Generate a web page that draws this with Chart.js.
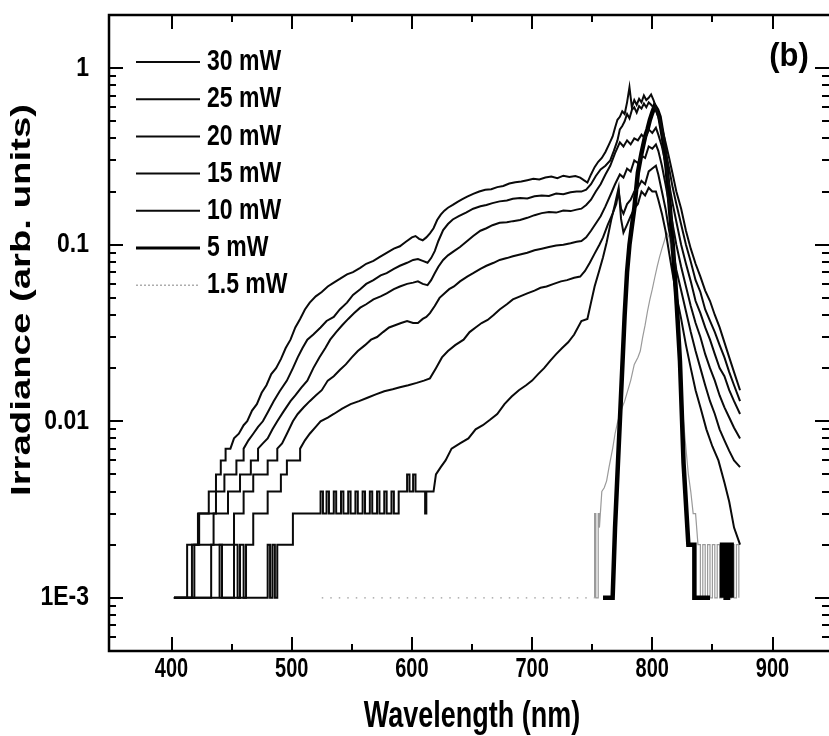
<!DOCTYPE html>
<html>
<head>
<meta charset="utf-8">
<script src="https://cdn.jsdelivr.net/npm/chart.js@4.4.1/dist/chart.umd.min.js"></script>
<style>
    html, body { margin: 0; padding: 0; background: #fff; }
    #wrap { width: 829px; height: 736px; position: relative; }
</style>
</head>
<body>
<div id="wrap"><canvas id="spectraChart"></canvas></div>
<script>
// tick values and labels
const wavelengthTicks = [400, 500, 600, 700, 800, 900];
const wavelengthMinorTicks = [450, 550, 650, 750, 850];
const irradianceTicks = [0.001, 0.01, 0.1, 1];
const irradianceTickLabels = ['1E-3', '0.01', '0.1', '1'];

// [wavelength nm, irradiance]
const series30 = [
    [402, .001], [413, .001], [413, .002], [422, .002], [422, .003], [431, .003], [431, .004], [437, .004], [437, .005],
    [441, .005], [441, .006], [445, .006], [445, .007], [449, .007], [452, .008], [456, .0085], [460, .0095], [463, .01],
    [467, .0115], [471, .0125], [475, .0145], [479, .016], [483, .0185], [487, .02], [491, .0225], [495, .026], [499, .029],
    [503, .034], [507, .038], [511, .043], [515, .047], [520, .051], [525, .054], [530, .058], [535, .061], [540, .064],
    [546, .068], [551, .07], [557, .074], [562, .078], [568, .081], [573, .085], [579, .09], [585, .095], [590, .098],
    [595, .104], [600, .11], [603, .112], [606, .108], [609, .106], [612, .11], [615, .116], [618, .124], [621, .138],
    [624, .148], [627, .156], [630, .162], [634, .168], [638, .175], [642, .181], [646, .187], [651, .194], [656, .2],
    [661, .205], [666, .206], [671, .212], [676, .215], [681, .222], [686, .226], [691, .228], [696, .232], [701, .236],
    [706, .234], [711, .24], [716, .243], [721, .238], [726, .246], [731, .242], [736, .245], [740, .24], [743, .232],
    [746, .225], [749, .25], [752, .275], [755, .295], [758, .31], [761, .335], [764, .37], [767, .41], [769, .46],
    [771, .51], [773, .53], [775, .57], [777, .55], [779, .64], [781, .78], [783, .6], [785, .66], [787, .62], [789, .67],
    [791, .64], [793, .7], [795, .66], [797, .68], [799, .71], [801, .66], [803, .6], [805, .55], [808, .46], [811, .38],
    [814, .31], [817, .25], [820, .2], [824, .16], [828, .12], [832, .095], [836, .078], [840, .066], [844, .055],
    [848, .048], [852, .04], [856, .034], [860, .028], [864, .023], [868, .019], [873, .015]
];

const series25 = [
    [402, .001], [417, .001], [417, .002], [423, .002], [423, .003], [437, .003], [437, .004], [444, .004], [444, .005],
    [454, .005], [454, .006], [460, .006], [460, .007], [464, .0078], [468, .0085], [472, .0093], [476, .01], [480, .0112],
    [485, .013], [490, .0148], [496, .017], [501, .02], [505, .023], [509, .026], [513, .029], [518, .031], [524, .034],
    [529, .037], [535, .039], [540, .043], [546, .047], [551, .052], [557, .056], [562, .06], [568, .063], [574, .067],
    [579, .069], [585, .073], [590, .076], [596, .079], [601, .082], [605, .083], [609, .081], [613, .079], [616, .084],
    [619, .092], [622, .105], [626, .121], [630, .131], [634, .139], [639, .145], [645, .152], [651, .16], [657, .165],
    [662, .168], [667, .172], [673, .176], [679, .178], [684, .182], [690, .184], [696, .183], [702, .188], [708, .19],
    [714, .189], [720, .195], [726, .193], [732, .198], [737, .2], [741, .2], [745, .205], [749, .22], [753, .245],
    [757, .267], [761, .28], [765, .3], [768, .34], [771, .39], [773, .45], [775, .47], [777, .5], [779, .55], [781, .52],
    [783, .58], [785, .6], [787, .56], [789, .61], [791, .59], [793, .63], [795, .6], [797, .64], [799, .62], [801, .6],
    [803, .58], [805, .53], [808, .44], [811, .34], [814, .27], [817, .21], [820, .17], [824, .13], [828, .1], [832, .08],
    [836, .063], [840, .054], [844, .043], [848, .037], [852, .032], [856, .027], [860, .023], [864, .019], [868, .016],
    [873, .013]
];

const series20 = [
    [402, .001], [419, .001], [419, .002], [435, .002], [435, .003], [447, .003], [447, .004], [457, .004], [457, .005],
    [466, .005], [466, .006], [472, .006], [472, .007], [476, .0075], [480, .008], [484, .009], [488, .01], [493, .0113],
    [499, .013], [503, .014], [508, .0155], [513, .017], [518, .02], [523, .023], [528, .026], [532, .029], [537, .032],
    [542, .035], [547, .038], [552, .041], [557, .044], [562, .046], [568, .049], [574, .051], [579, .053], [585, .056],
    [590, .058], [596, .06], [601, .061], [605, .062], [609, .06], [613, .059], [616, .063], [619, .069], [622, .075],
    [626, .082], [630, .087], [635, .092], [640, .097], [646, .105], [651, .112], [657, .12], [662, .124], [667, .129],
    [673, .133], [679, .134], [684, .136], [690, .138], [696, .142], [702, .147], [708, .151], [714, .153], [720, .152],
    [726, .156], [732, .155], [737, .158], [741, .16], [745, .168], [749, .18], [753, .2], [757, .22], [761, .25],
    [765, .28], [769, .33], [773, .38], [776, .36], [779, .39], [782, .37], [785, .4], [788, .39], [791, .42], [794, .4],
    [797, .45], [800, .43], [803, .46], [805, .42], [808, .36], [811, .29], [814, .22], [817, .17], [820, .135], [824, .1],
    [828, .078], [832, .062], [836, .048], [840, .041], [844, .034], [848, .029], [852, .024], [856, .02], [860, .018],
    [864, .015], [868, .013], [873, .011]
];

const series15 = [
    [402, .001], [433, .001], [433, .002], [452, .002], [452, .003], [460, .003], [460, .004], [468, .004], [468, .005],
    [480, .005], [480, .006], [488, .006], [488, .007], [492, .0075], [496, .0085], [501, .01], [505, .011], [510, .012],
    [515, .013], [520, .014], [525, .015], [530, .017], [535, .018], [540, .0195], [545, .021], [550, .023], [555, .025],
    [561, .027], [566, .029], [571, .03], [576, .032], [581, .034], [586, .035], [591, .036], [596, .037], [601, .036],
    [605, .036], [609, .038], [612, .039], [615, .041], [619, .045], [623, .05], [627, .053], [631, .056], [635, .058],
    [640, .062], [646, .066], [651, .069], [657, .073], [662, .076], [668, .079], [673, .082], [679, .084], [684, .086],
    [690, .088], [696, .09], [702, .093], [708, .095], [714, .097], [720, .099], [726, .1], [732, .102], [737, .104],
    [741, .105], [745, .11], [749, .12], [753, .132], [757, .145], [761, .165], [765, .19], [769, .22], [773, .25],
    [776, .24], [779, .27], [782, .26], [785, .3], [788, .29], [791, .32], [794, .31], [797, .36], [800, .35], [803, .37],
    [805, .34], [808, .28], [811, .22], [814, .17], [817, .13], [820, .1], [824, .075], [828, .058], [832, .045],
    [836, .036], [840, .03], [844, .024], [848, .02], [852, .017], [856, .014], [860, .012], [864, .0105], [868, .0092],
    [873, .008]
];

const series10 = [
    [402, .001], [440, .001], [440, .002], [442, .002], [442, .001], [452, .001], [452, .002], [455, .002], [455, .001],
    [457, .001], [457, .002], [460, .002], [460, .001], [462, .001], [462, .002], [468, .002], [468, .003], [480, .003],
    [480, .004], [491, .004], [491, .005], [496, .005], [496, .006], [507, .006], [507, .007], [511, .0078], [515, .0085],
    [520, .0093], [524, .01], [530, .0105], [535, .011], [542, .0118], [549, .0125], [556, .013], [563, .0136],
    [570, .0142], [577, .0148], [584, .0152], [590, .0156], [597, .016], [604, .0165], [610, .017], [615, .0175],
    [620, .02], [625, .023], [630, .025], [636, .027], [643, .029], [648, .032], [653, .034], [658, .036], [663, .0375],
    [668, .04], [673, .043], [679, .046], [684, .049], [690, .051], [696, .053], [702, .055], [707, .057], [712, .058],
    [718, .06], [724, .062], [729, .063], [735, .065], [740, .066], [744, .071], [748, .079], [752, .089], [756, .1],
    [759, .11], [763, .13], [767, .15], [770, .17], [772, .2], [774, .16], [776, .15], [779, .17], [782, .18], [785, .2],
    [788, .21], [791, .23], [794, .22], [797, .26], [800, .27], [803, .28], [805, .25], [808, .2], [811, .16], [814, .12],
    [817, .095], [820, .072], [824, .055], [828, .042], [832, .032], [836, .025], [840, .02], [844, .016], [848, .013],
    [852, .011], [856, .009], [860, .0078], [864, .0068], [868, .006], [873, .0055]
];

const seriesLowest = [
    [440, .001], [480, .001], [480, .002], [482, .002], [482, .001], [484, .001], [484, .002], [486, .002], [486, .001],
    [488, .001], [488, .002], [501, .002], [501, .003], [524, .003], [524, .004], [526, .004], [526, .003], [529, .003],
    [529, .004], [531, .004], [531, .003], [535, .003], [535, .004], [537, .004], [537, .003], [541, .003], [541, .004],
    [543, .004], [543, .003], [547, .003], [547, .004], [549, .004], [549, .003], [553, .003], [553, .004], [555, .004],
    [555, .003], [559, .003], [559, .004], [561, .004], [561, .003], [565, .003], [565, .004], [567, .004], [567, .003],
    [571, .003], [571, .004], [573, .004], [573, .003], [577, .003], [577, .004], [579, .004], [579, .003], [583, .003],
    [583, .004], [585, .004], [585, .003], [589, .003], [589, .004], [596, .004], [596, .005], [598, .005], [598, .004],
    [601, .004], [601, .005], [603, .005], [603, .004], [611, .004], [611, .003], [612, .003], [612, .004], [618, .004],
    [620, .005], [624, .0055], [628, .006], [633, .007], [640, .0075], [647, .008], [653, .009], [659, .0095],
    [665, .0102], [671, .011], [677, .0125], [683, .0138], [689, .015], [695, .016], [700, .017], [705, .0185],
    [710, .02], [715, .022], [720, .024], [725, .026], [730, .028], [735, .031], [741, .037], [746, .038], [749, .047],
    [752, .058], [756, .072], [759, .085], [762, .103], [766, .14], [769, .17], [772, .21], [774, .14], [776, .117],
    [779, .13], [782, .145], [785, .16], [788, .17], [791, .2], [794, .19], [797, .21], [800, .2], [803, .2], [805, .18],
    [808, .15], [811, .12], [814, .09], [817, .068], [820, .052], [824, .038], [828, .027], [832, .02], [836, .015],
    [840, .012], [845, .009], [850, .0072], [855, .006], [860, .0045], [864, .0035], [868, .0025], [873, .002]
];

const series5 = [
    [759, .001], [767, .001], [769, .0025], [771, .005], [773, .01], [775, .02], [777, .04], [779, .07], [781, .1],
    [783, .127], [785, .16], [788, .256], [791, .33], [794, .41], [796, .45], [798, .51], [800, .56], [802, .61],
    [804, .58], [806, .53], [809, .4], [812, .27], [815, .15], [817, .1], [820, .05], [823, .022], [826, .0058],
    [830, .002], [835, .002], [835, .001], [848, .001], [853, null], [858, .001], [858, .002], [861, .002], [861, .001],
    [863, .001], [863, .002], [866, .002], [866, .001]
];

const series1p5 = [
    [525, .001], [752, .001], [752, .003], [753, .003], [753, .001], [755, .001], [755, .003], [756, .003], [756, .0025],
    [758, .004], [760, .0042], [762, .0046], [764, .0055], [767, .007], [769, .0085], [771, .0098], [773, .011],
    [775, .012], [777, .013], [779, .0145], [782, .017], [785, .021], [788, .023], [790, .025], [792, .03], [794, .035],
    [796, .042], [798, .049], [800, .056], [802, .065], [804, .075], [806, .085], [808, .095], [810, .105], [812, .117],
    [814, .11], [816, .09], [818, .06], [820, .04], [822, .025], [824, .016], [826, .01], [828, .007], [830, .005],
    [832, .004], [834, .003], [836, .003], [838, .002], [840, .002], [840, .001], [842, .001], [842, .002], [844, .002],
    [844, .001], [846, .001], [846, .002], [848, .002], [848, .001], [850, .001], [850, .002], [852, .002], [852, .001],
    [854, .001], [854, .002], [856, .002], [856, .001], [858, .001], [858, .002], [860, .002], [860, .001], [862, .001],
    [862, .002], [864, .002], [864, .001], [866, .001], [866, .002], [868, .002], [868, .001], [870, .001], [870, .002],
    [872, .002], [872, .001]
];

const seriesLabels = ['30 mW', '25 mW', '20 mW', '15 mW', '10 mW', '5 mW', '1.5 mW', ''];
const seriesData = [series30, series25, series20, series15, series10, series5, series1p5, seriesLowest];

const FONT = '"Liberation Sans", Arial, Helvetica, sans-serif';

function toPoints(rows) {
    return rows.map((row) => ({ x: row[0], y: row[1] }));
}

function stretchedText(ctx, text, x, y, size, align, sy) {
    ctx.save();
    ctx.translate(x, y);
    ctx.scale(1, sy);
    ctx.font = 'bold ' + size + 'px ' + FONT;
    ctx.textAlign = align;
    ctx.textBaseline = 'middle';
    ctx.fillText(text, 0, 0);
    ctx.restore();
}

const frameAndLabels = {
    id: 'frameAndLabels',
    afterDatasetsDraw(chart) {
        const { ctx, chartArea: area, scales } = chart;
        const xs = scales.x;
        const ys = scales.y;

        ctx.save();
        ctx.strokeStyle = '#000';
        ctx.fillStyle = '#000';
        ctx.lineCap = 'butt';

        // frame
        ctx.lineWidth = 2.5;
        ctx.beginPath();
        ctx.moveTo(area.right + 3, area.top);
        ctx.lineTo(area.left, area.top);
        ctx.lineTo(area.left, area.bottom);
        ctx.lineTo(area.right + 3, area.bottom);
        ctx.stroke();

        // inward ticks
        ctx.lineWidth = 2;
        const tick = (x1, y1, x2, y2) => {
            ctx.beginPath();
            ctx.moveTo(x1, y1);
            ctx.lineTo(x2, y2);
            ctx.stroke();
        };

        wavelengthTicks.forEach((v) => {
            const px = Math.round(xs.getPixelForValue(v));
            tick(px, area.bottom, px, area.bottom - 14);
            tick(px, area.top, px, area.top + 14);
        });
        wavelengthMinorTicks.forEach((v) => {
            const px = Math.round(xs.getPixelForValue(v));
            tick(px, area.bottom, px, area.bottom - 7);
            tick(px, area.top, px, area.top + 7);
        });

        for (let d = -4; d <= 0; d++) {
            for (let k = 1; k <= 9; k++) {
                const v = k * Math.pow(10, d);
                if (v < ys.min || v > ys.max) continue;
                const py = Math.round(ys.getPixelForValue(v));
                const len = k === 1 ? 14 : 7;
                tick(area.left, py, area.left + len, py);
                tick(area.right, py, area.right - len, py);
            }
        }

        // tick labels
        wavelengthTicks.forEach((v) => {
            stretchedText(ctx, String(v), xs.getPixelForValue(v), area.bottom + 19, 20, 'center', 1.35);
        });
        irradianceTicks.forEach((v, i) => {
            stretchedText(ctx, irradianceTickLabels[i], 89, ys.getPixelForValue(v), 23, 'right', 1.18);
        });

        // axis titles
        stretchedText(ctx, 'Wavelength (nm)', 472, 717, 27, 'center', 1.4);
        ctx.save();
        ctx.translate(23, 300);
        ctx.rotate(-Math.PI / 2);
        ctx.scale(1.42, 1);
        ctx.font = 'bold 27px ' + FONT;
        ctx.textAlign = 'center';
        ctx.textBaseline = 'middle';
        ctx.fillText('Irradiance (arb. units)', 0, 0);
        ctx.restore();

        // panel label
        stretchedText(ctx, '(b)', 789, 57, 31, 'center', 1.05);

        // legend
        let row = 0;
        chart.data.datasets.forEach((ds) => {
            if (!ds.label) return;
            const ly = 62 + row * 37.2;
            ctx.save();
            ctx.strokeStyle = ds.borderColor;
            ctx.lineWidth = Math.min(ds.borderWidth, 3);
            if (ds.legendDash) ctx.setLineDash(ds.legendDash);
            tick(136, ly, 200, ly);
            ctx.restore();
            stretchedText(ctx, ds.label, 207, ly, 23, 'left', 1.3);
            row++;
        });

        ctx.restore();
    }
};

const lineStyles = [
    { color: '#0a0a0a', width: 2 },
    { color: '#0a0a0a', width: 2 },
    { color: '#0a0a0a', width: 2 },
    { color: '#0a0a0a', width: 2 },
    { color: '#0a0a0a', width: 2 },
    { color: '#000000', width: 4.5 },
    { color: '#9a9a9a', width: 1.2 },
    { color: '#0a0a0a', width: 2 },
];

const canvas = document.getElementById('spectraChart');

new Chart(canvas, {
    type: 'line',
    data: {
        datasets: seriesData.map((rows, i) => ({
            label: seriesLabels[i],
            data: toPoints(rows),
            borderColor: lineStyles[i].color,
            borderWidth: lineStyles[i].width,
            pointRadius: 0,
            tension: 0,
            spanGaps: false,
            order: i === 6 ? 10 : i,
            legendDash: i === 6 ? [2, 2] : null,
            segment: i === 6 ? {
                borderDash: (ctx) => (ctx.p1.parsed.x <= 752 && ctx.p0.parsed.y === 0.001 && ctx.p1.parsed.y === 0.001) ? [1.5, 7] : undefined,
            } : undefined,
        })),
    },
    options: {
        responsive: true,
        maintainAspectRatio: false,
        animation: false,
        layout: {
            padding: { left: 109, top: 15, right: 0, bottom: 85 },
        },
        plugins: {
            legend: { display: false },
            tooltip: { enabled: false },
        },
        scales: {
            x: {
                type: 'linear',
                min: 348,
                max: 947,
                display: false,
            },
            y: {
                type: 'logarithmic',
                min: 0.0005,
                max: 2,
                display: false,
            },
        },
    },
    plugins: [frameAndLabels],
});
</script>
</body>
</html>
